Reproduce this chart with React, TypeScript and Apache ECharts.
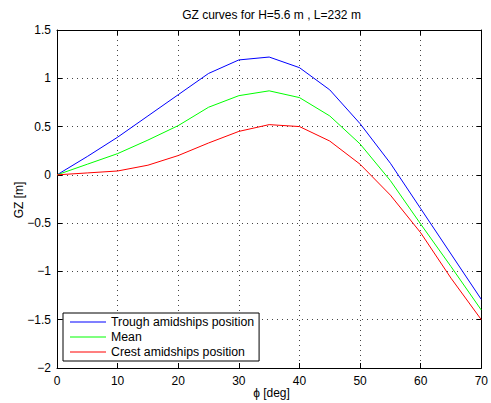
import React, { useEffect, useRef } from "react";
import * as echarts from "echarts";

const degrees = [0, 5, 10, 15, 20, 25, 30, 35, 40, 45, 50, 55, 60, 65, 70];
const trough = [0, 0.19, 0.39, 0.61, 0.83, 1.05, 1.19, 1.22, 1.11, 0.88, 0.53, 0.12, -0.35, -0.82, -1.29];
const mean = [0, 0.11, 0.22, 0.36, 0.51, 0.7, 0.82, 0.87, 0.8, 0.61, 0.32, -0.06, -0.51, -0.95, -1.4];
const crest = [0, 0.02, 0.04, 0.1, 0.2, 0.33, 0.45, 0.52, 0.5, 0.35, 0.11, -0.21, -0.6, -1.07, -1.5];
const seriesNames = ["Trough amidships position", "Mean", "Crest amidships position"];
const seriesColors = ["#0000ff", "#00ff00", "#ff0000"];
const titleText = "GZ curves for H=5.6 m , L=232 m";
const xLabel = "\u03d5 [deg]";
const yLabel = "GZ [m]";

const FONT = "'Liberation Sans', Arial, Helvetica, sans-serif";

export default function App() {
  const ref = useRef<HTMLDivElement>(null);
  useEffect(() => {
    if (!ref.current) return;
    const chart = echarts.init(ref.current, undefined, { renderer: "svg" });
    const values = [trough, mean, crest];
    const axisCommon = {
      type: "value" as const,
      axisLine: { show: true, onZero: false, lineStyle: { color: "#000", width: 1 } },
      axisTick: { show: true, inside: true, length: 5, lineStyle: { color: "#000" } },
    };
    chart.setOption({
      animation: false,
      backgroundColor: "#fff",
      textStyle: { fontFamily: FONT },
      grid: { left: 57, top: 30, right: 5, bottom: 35 },
      xAxis: [
        {
          ...axisCommon,
          position: "bottom",
          min: 0,
          max: 70,
          interval: 10,
          axisLabel: { color: "#000", fontSize: 12, fontFamily: FONT, margin: 7 },
          splitLine: { show: true, lineStyle: { color: "#444", type: [1, 4], width: 1 } },
        },
        {
          ...axisCommon,
          position: "top",
          min: 0,
          max: 70,
          interval: 10,
          axisLabel: { show: false },
          splitLine: { show: false },
        },
      ],
      yAxis: [
        {
          ...axisCommon,
          position: "left",
          min: -2,
          max: 1.5,
          interval: 0.5,
          axisLabel: {
            color: "#000",
            fontSize: 12,
            fontFamily: FONT,
            margin: 6,
            formatter: (v: number) => String(v).replace("-", "\u2212"),
          },
          splitLine: { show: true, lineStyle: { color: "#444", type: [1, 4], width: 1 } },
        },
        {
          ...axisCommon,
          position: "right",
          min: -2,
          max: 1.5,
          interval: 0.5,
          axisLabel: { show: false },
          splitLine: { show: false },
        },
      ],
      legend: {
        orient: "vertical",
        left: 63,
        top: 313,
        padding: [3, 5, 3, 7],
        itemGap: 3,
        itemWidth: 36,
        itemHeight: 1,
        icon: "rect",
        selectedMode: false,
        backgroundColor: "#fff",
        borderColor: "#000",
        borderWidth: 1,
        borderRadius: 0,
        textStyle: { color: "#000", fontSize: 12.3, fontFamily: FONT },
        data: seriesNames,
      },
      series: seriesNames.map((name, i) => ({
        name,
        type: "line",
        xAxisIndex: 0,
        yAxisIndex: 0,
        showSymbol: false,
        symbol: "none",
        color: seriesColors[i],
        lineStyle: { color: seriesColors[i], width: 1 },
        data: degrees.map((d, j) => [d, values[i][j]]),
      })),
      graphic: [
        {
          type: "text",
          x: 271.5,
          y: 15,
          style: {
            text: titleText,
            fill: "#000",
            font: `12px ${FONT}`,
            textAlign: "center",
            textVerticalAlign: "middle",
          },
        },
        {
          type: "text",
          x: 271.5,
          y: 393,
          style: {
            text: xLabel,
            fill: "#000",
            font: `12px ${FONT}`,
            textAlign: "center",
            textVerticalAlign: "middle",
          },
        },
        {
          type: "text",
          x: 19,
          y: 200,
          rotation: Math.PI / 2,
          style: {
            text: yLabel,
            fill: "#000",
            font: `12px ${FONT}`,
            textAlign: "center",
            textVerticalAlign: "middle",
          },
        },
      ],
    });
    return () => chart.dispose();
  }, []);
  return (
    <div
      ref={ref}
      style={{ position: "fixed", left: 0, top: 0, width: 491, height: 403, background: "#fff" }}
    />
  );
}
